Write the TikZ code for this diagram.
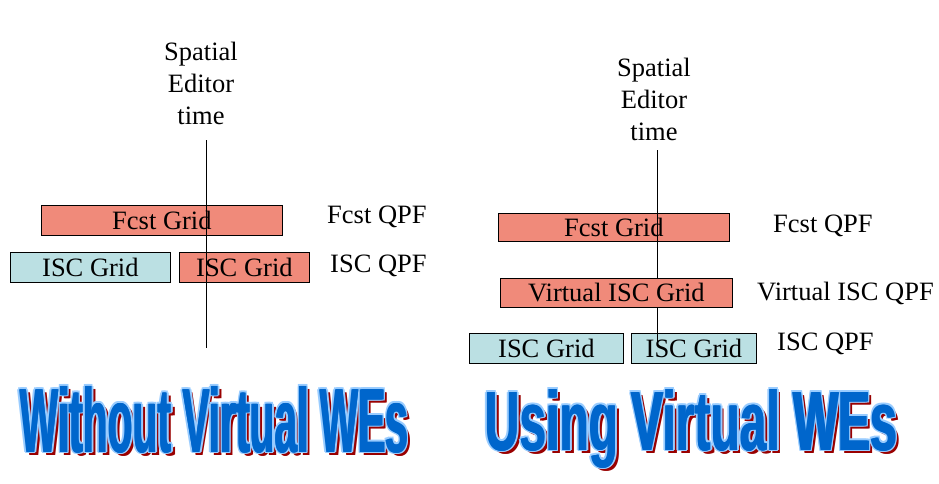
\documentclass[tikz,border=0pt]{standalone}
\usepackage{fontspec}
\setmainfont{Liberation Serif}
\newfontfamily\ttlfont{Liberation Sans}
\usepackage{graphicx}
\definecolor{salmon}{RGB}{240,138,122}
\definecolor{iscblue}{RGB}{187,224,227}
\definecolor{ttlblue}{RGB}{0,102,204}
\definecolor{ttlout}{RGB}{153,204,255}
\definecolor{ttlshadow}{RGB}{153,0,0}
\newcommand\ttlA{\resizebox{388pt}{66pt}{\ttlfont\bfseries Without Virtual WEs}}
\newcommand\ttlB{\resizebox{412pt}{61pt}{\ttlfont\bfseries Using Virtual WEs}}
\begin{document}
\begin{tikzpicture}[x=1pt,y=-1pt,
  gridbox/.style={draw=black, line width=0.8pt, inner sep=0pt, anchor=north west,
    font=\fontsize{26.5}{32}\selectfont},
  lbl/.style={inner sep=0pt, anchor=base west, font=\fontsize{26.5}{32}\selectfont},
  axislbl/.style={inner sep=0pt, align=center, font=\fontsize{26.5}{32}\selectfont},
  axis/.style={draw=black, line width=0.8pt},
  ttl/.style={inner sep=0pt, anchor=base west}]
\useasboundingbox (0,0) rectangle (939,483);
% ---------- left ----------
\node[axislbl] (lse) at (201,83) {Spatial\\Editor\\time};
\node[gridbox, fill=salmon, minimum width=241pt, minimum height=30pt] (lf) at (41,205) {Fcst Grid};
\node[gridbox, fill=iscblue, minimum width=160pt, minimum height=30pt] (lia) at (10,252) {ISC Grid};
\node[gridbox, fill=salmon, minimum width=130pt, minimum height=30pt] (lib) at (179,252) {ISC Grid};
\coordinate (lt) at (206,140);
\coordinate (lb) at (206,348);
\draw[axis] (lt) -- (lb);
\node[lbl] (lq1) at (327,223) {Fcst QPF};
\node[lbl] (lq2) at (330,272) {ISC QPF};
% ---------- right ----------
\node[axislbl] (rse) at (654,99) {Spatial\\Editor\\time};
\node[gridbox, fill=salmon, minimum width=231pt, minimum height=28pt] (rf) at (498,213) {Fcst Grid};
\node[gridbox, fill=iscblue, minimum width=154pt, minimum height=30pt] (ria) at (469,333) {ISC Grid};
\node[gridbox, fill=iscblue, minimum width=125pt, minimum height=30pt] (rib) at (631,333) {ISC Grid};
\coordinate (rt) at (657,150);
\coordinate (rb) at (657,343);
\draw[axis] (rt) -- (rb);
\node[gridbox, fill=salmon, minimum width=232pt, minimum height=29pt] (rv) at (500,278) {Virtual ISC Grid};
\node[lbl] (rq1) at (773,232) {Fcst QPF};
\node[lbl] (rq2) at (757,300) {Virtual ISC QPF};
\node[lbl] (rq3) at (777,350) {ISC QPF};
% ---------- titles ----------
\foreach \dx [count=\i] in {-0.7,0.7}
  \node[ttl, text=ttlshadow] (tas\i) at (23.5+\dx,455.5) {\ttlA};
\foreach \dx/\dy [count=\i] in {2.3/0,-2.3/0,0/1.6,0/-1.6,1.7/1.1,-1.7/1.1,1.7/-1.1,-1.7/-1.1}
  \node[ttl, text=ttlout] (tao\i) at (20+\dx,452+\dy) {\ttlA};
\foreach \dx [count=\i] in {-0.7,0,0.7}
  \node[ttl, text=ttlblue] (ta\i) at (20+\dx,452) {\ttlA};
\foreach \dx [count=\i] in {-0.7,0.7}
  \node[ttl, text=ttlshadow] (tbs\i) at (488.5+\dx,453.5) {\ttlB};
\foreach \dx/\dy [count=\i] in {2.3/0,-2.3/0,0/1.6,0/-1.6,1.7/1.1,-1.7/1.1,1.7/-1.1,-1.7/-1.1}
  \node[ttl, text=ttlout] (tbo\i) at (485+\dx,450+\dy) {\ttlB};
\foreach \dx [count=\i] in {-0.7,0,0.7}
  \node[ttl, text=ttlblue] (tb\i) at (485+\dx,450) {\ttlB};
\end{tikzpicture}
\end{document}
